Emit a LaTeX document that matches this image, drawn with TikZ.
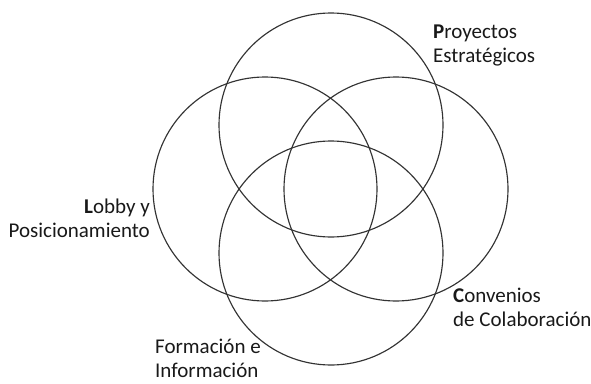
\documentclass[tikz,border=0pt]{standalone}
\usepackage{fontspec}
\setmainfont{Carlito}
\newcommand\twolinesL[2]{\vtop{\halign{##\hfil\cr #1\cr #2\cr}}}
\newcommand\twolinesR[2]{\vtop{\halign{\hfil##\cr #1\cr #2\cr}}}
\begin{document}
\begin{tikzpicture}[x=1pt,y=-1pt,
  ring/.style={circle,draw=black!80,line width=1.15pt,minimum size=224pt,inner sep=0pt},
  lbl/.style={inner sep=0pt,text=black!90,font=\fontsize{21}{24.5}\selectfont}]
\useasboundingbox (0,0) rectangle (591,383);
\node[ring] (ctop) at (331,125) {};
\node[ring] (cleft) at (265,189) {};
\node[ring] (cright) at (396,189) {};
\node[ring] (cbot) at (331,253) {};
\node[lbl,anchor=base west] (lproy) at (433,38) {\twolinesL{\textbf{P}royectos}{Estratégicos}};
\node[lbl,anchor=base east] (llob) at (150,213) {\twolinesR{\textbf{L}obby y}{Posicionamiento}};
\node[lbl,anchor=base west] (lconv) at (453,302) {\twolinesL{\textbf{C}onvenios}{de Colaboración}};
\node[lbl,anchor=base west] (lform) at (155,353) {\twolinesL{Formación e}{Información}};
\end{tikzpicture}
\end{document}
